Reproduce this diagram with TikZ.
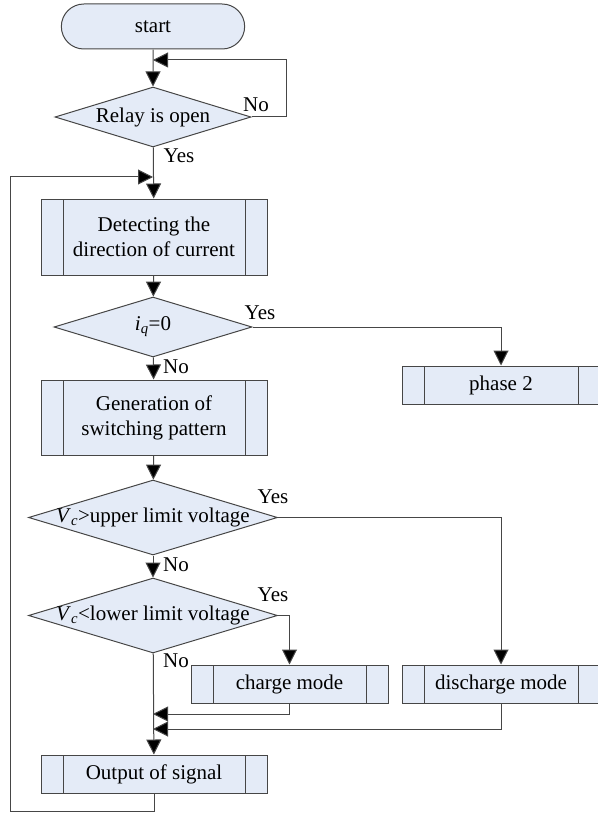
\documentclass[tikz,border=0pt]{standalone}
\usepackage{fontspec}
\setmainfont{Liberation Serif}
\usetikzlibrary{shapes.geometric,shapes.misc,arrows.meta}
\definecolor{boxfill}{RGB}{228,235,247}
\definecolor{edge}{RGB}{70,70,70}
\tikzset{
  txt/.style={font=\fontsize{21}{25}\selectfont, align=center},
  term/.style={txt, rounded rectangle, draw=edge, fill=boxfill, line width=1pt, minimum width=190, minimum height=45},
  sub/.style={txt, rectangle, draw=edge, fill=boxfill, line width=1pt, minimum height=38,
    path picture={\draw[edge, line width=1pt]
      ([xshift=22pt]path picture bounding box.north west) -- ([xshift=22pt]path picture bounding box.south west)
      ([xshift=-22pt]path picture bounding box.north east) -- ([xshift=-22pt]path picture bounding box.south east);}},
  test/.style={txt, diamond, draw=edge, fill=boxfill, line width=1pt, inner sep=0pt},
  arr/.style={draw=edge, line width=1pt, -{Triangle[length=15pt,width=15pt,fill=black]}},
  ln/.style={draw=edge, line width=1pt}
}
\begin{document}
\begin{tikzpicture}[x=1pt, y=-1pt]
    \useasboundingbox (0, 0) rectangle (597, 813);
        \node[term] (start) at(153, 26.5){start};
        \node[test, minimum width=196, minimum height=60] (relay) at(153, 117){\makebox[0pt]{Relay is open}};
            \node[txt] (relayno) at(256, 105){No};
            \node[txt] (relayyes) at(179, 156){Yes};
        \coordinate (top) at(153, 60);
        \coordinate (back) at(153, 177);

        \node[sub, minimum width=226, minimum height=76] (detect) at(154, 237){Detecting the\\direction of current};
        \node[test, minimum width=198, minimum height=60] (iq) at(153, 327){\makebox[0pt]{\textit{i}\textsubscript{\textit{q}}=0}};
            \node[txt] (iqyes) at(260, 313){Yes};
            \node[txt] (iqno) at(176, 367){No};
        \node[sub, minimum width=198] (phase) at(501, 385){phase 2};

        \node[sub, minimum width=226, minimum height=75] (gen) at(154, 417.5){Generation of\\switching pattern};
        \node[test, minimum width=249, minimum height=75] (upper) at(153, 517.5){\makebox[0pt]{\textit{V}\textsubscript{\textit{c}}>upper limit voltage}};
            \node[txt] (upyes) at(273, 497){Yes};
            \node[txt] (upno) at(176, 565){No};
        \node[test, minimum width=249, minimum height=75] (lower) at(153, 615.5){\makebox[0pt]{\textit{V}\textsubscript{\textit{c}}<lower limit voltage}};
            \node[txt] (lowyes) at(273, 595){Yes};
            \node[txt] (lowno) at(176, 661){No};

        \node[sub, minimum width=197] (charge) at(289.5, 684){charge mode};
        \node[sub, minimum width=198] (discharge) at(501, 684){discharge mode};
        \coordinate (jcharge) at(153, 714);
        \coordinate (jdis) at(153, 729);

        \node[sub, minimum width=226] (output) at(154, 774){Output of signal};

    % main line
        \draw[arr] (start) to (relay);
        \draw[arr] (relay.east) -- ++(35, 0) |- (top);
        \draw[arr] (relay) to (detect);
        \draw[arr] (detect) to (iq);
        \draw[arr] (iq.east) -| (phase.north);
        \draw[arr] (iq) to (gen);
        \draw[arr] (gen) to (upper);
        \draw[arr] (upper.east) -| (discharge.north);
        \draw[arr] (upper) to (lower);
        \draw[arr] (lower.east) -| (charge.north);
        \draw[arr] (lower) to (output);
        \draw[arr] (charge.south) |- (jcharge);
        \draw[arr] (discharge.south) |- (jdis);
        \draw[arr] (output.south) -- ++(0, 18) -| (10, 177) -- (back);
\end{tikzpicture}
\end{document}
